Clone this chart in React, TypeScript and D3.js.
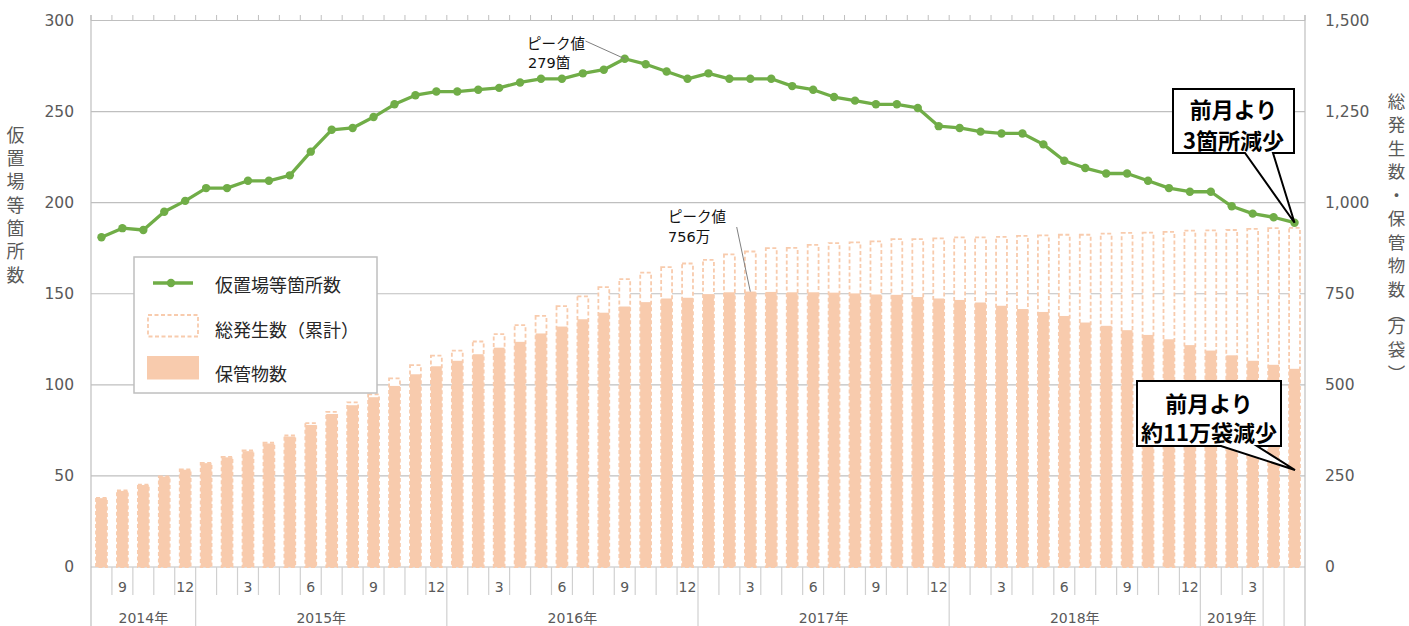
import React from 'react';
import * as d3 from 'd3';

// ---- data ----
const months = [8, 9, 10, 11, 12,
  1, 2, 3, 4, 5, 6, 7, 8, 9, 10, 11, 12,
  1, 2, 3, 4, 5, 6, 7, 8, 9, 10, 11, 12,
  1, 2, 3, 4, 5, 6, 7, 8, 9, 10, 11, 12,
  1, 2, 3, 4, 5, 6, 7, 8, 9, 10, 11, 12,
  1, 2, 3, 4, 5];

const yearLabels = ['2014年', '2015年', '2016年', '2017年', '2018年', '2019年', '', ''];
const yearCounts = [5, 12, 12, 12, 12, 3, 1, 1];

// 仮置場等箇所数 (left axis)
const sites = [181, 186, 185, 195, 201, 208, 208, 212, 212, 215, 228, 240, 241, 247, 254,
  259, 261, 261, 262, 263, 266, 268, 268, 271, 273, 279, 276, 272, 268, 271,
  268, 268, 268, 264, 262, 258, 256, 254, 254, 252, 242, 241, 239, 238, 238,
  232, 223, 219, 216, 216, 212, 208, 206, 206, 198, 194, 192, 189];

// 保管物数 (right axis, 万袋)
const storage = [189, 209, 225, 248, 267, 285, 301, 318, 339, 358, 390, 420, 444, 466, 497,
  529, 551, 566, 584, 602, 618, 641, 660, 680, 698, 715, 727, 737, 739, 749,
  754, 756, 755, 754, 754, 753, 751, 748, 747, 741, 737, 733, 726, 717, 708,
  700, 689, 671, 662, 650, 637, 625, 609, 594, 581, 566, 555, 544];

// 総発生数（累計） (right axis, 万袋)
const total = [190, 210, 226, 249, 268, 286, 302, 320, 341, 361, 395, 426, 452, 474, 518,
  554, 580, 594, 619, 639, 664, 689, 716, 743, 768, 790, 808, 823, 833, 843,
  858, 866, 875, 876, 884, 889, 891, 894, 900, 900, 902, 905, 905, 906, 909,
  910, 912, 912, 915, 917, 918, 920, 923, 924, 925, 928, 930, 931];

const leftTicks = [0, 50, 100, 150, 200, 250, 300];
const rightTicks = [0, 250, 500, 750, 1000, 1250, 1500];

const legendLabels = ['仮置場等箇所数', '総発生数（累計）', '保管物数'];

// ---- style ----
const GREEN = '#70ad47';
const BAR = '#f8cbad';
const GRID = '#bfbfbf';
const AXIS_TEXT = '#595959';
const NUM_FONT = '"DejaVu Sans", "Noto Sans CJK JP", sans-serif';
const JP_FONT = '"Noto Sans CJK JP", "Noto Sans", sans-serif';

export default function App() {
  const W = 1409, H = 626;
  const left = 91, right = 1305, top = 20.5, bottom = 567;

  const idx = d3.range(months.length);
  const x = d3.scaleBand<number>().domain(idx).range([left, right]).paddingInner(0).paddingOuter(0);
  const bw = x.bandwidth();
  const cx = (i: number) => (x(i) as number) + bw / 2;
  const yL = d3.scaleLinear().domain([0, 300]).range([bottom, top]);
  const yR = d3.scaleLinear().domain([0, 1500]).range([bottom, top]);
  const fmt = d3.format(',');

  const barW = bw * 0.52;

  const linePath = d3.line<number>().x((_, i) => cx(i)).y(d => yL(d))(sites) || '';

  const yearStarts: number[] = [];
  let acc = 0;
  yearCounts.forEach(c => { yearStarts.push(acc); acc += c; });

  const boundary = (k: number) => left + k * bw;

  const last = months.length - 1;
  const tip1x = cx(last), tip1y = yL(sites[last]);
  const peakSiteIdx = sites.indexOf(d3.max(sites) as number);
  const peakStoreIdx = storage.indexOf(d3.max(storage) as number);

  return (
    <div style={{ position: 'absolute', left: 0, top: 0 }}>
      <svg width={W} height={H} style={{ display: 'block' }}>
        <rect x={0} y={0} width={W} height={H} fill="#fff" />
        {leftTicks.map(t => (
          <line key={'g' + t} x1={left} x2={right} y1={yL(t)} y2={yL(t)} stroke={GRID} strokeWidth={1.2} />
        ))}
        <line x1={left} x2={left} y1={15} y2={H} stroke={GRID} strokeWidth={1.2} />
        <line x1={right} x2={right} y1={15} y2={H} stroke={GRID} strokeWidth={1.2} />
        {d3.range(months.length + 1).map(k => (
          <line key={'tt' + k} x1={boundary(k)} x2={boundary(k)} y1={15} y2={top} stroke={GRID} strokeWidth={1} />
        ))}
        {d3.range(1, months.length).map(k => (
          <line key={'mt' + k} x1={boundary(k)} x2={boundary(k)} y1={bottom} y2={yearStarts.includes(k) ? H : 595} stroke="#d0d0d0" strokeWidth={1.2} />
        ))}
        {months.map((m, i) => (m % 3 === 0 ? (
          <text key={'ml' + i} x={cx(i)} y={587} textAnchor="middle" dominantBaseline="central"
            fontFamily={NUM_FONT} fontSize={14} fill={AXIS_TEXT}>{m}</text>
        ) : null))}
        {yearLabels.map((lab, j) => (
          <text key={'yl' + j} x={left + (yearStarts[j] + yearCounts[j] / 2) * bw} y={618} textAnchor="middle"
            dominantBaseline="central" fontFamily={NUM_FONT} fontSize={14} fill={AXIS_TEXT}>{lab}</text>
        ))}
        {leftTicks.map(t => (
          <text key={'lt' + t} x={74} y={yL(t)} textAnchor="end" dominantBaseline="central"
            fontFamily={NUM_FONT} fontSize={15.5} fill={AXIS_TEXT}>{t}</text>
        ))}
        {rightTicks.map(t => (
          <text key={'rt' + t} x={1325} y={yR(t)} textAnchor="start" dominantBaseline="central"
            fontFamily={NUM_FONT} fontSize={15.5} fill={AXIS_TEXT}>{fmt(t)}</text>
        ))}
        <text x={15.5} y={126} style={{ writingMode: 'vertical-rl' }} fontFamily={JP_FONT} fontSize={18}
          letterSpacing={5.3} fill={AXIS_TEXT}>仮置場等箇所数</text>
        <text x={1396.5} y={92.5} style={{ writingMode: 'vertical-rl' }} fontFamily={JP_FONT} fontSize={17.5}
          letterSpacing={6} fill={AXIS_TEXT}>総発生数・保管物数<tspan letterSpacing={-4}>（</tspan>万袋）</text>

        {total.map((v, i) => (
          <rect key={'tb' + i} x={cx(i) - barW / 2} y={yR(v)} width={barW} height={yR(0) - yR(v)}
            fill="#fff" stroke={BAR} strokeWidth={1.8} strokeDasharray="4 2.5" />
        ))}
        {storage.map((v, i) => (
          <rect key={'sb' + i} x={cx(i) - barW / 2} y={yR(v)} width={barW} height={yR(0) - yR(v)} fill={BAR} />
        ))}

        <path d={linePath} fill="none" stroke={GREEN} strokeWidth={3.3} strokeLinejoin="round" />
        {sites.map((v, i) => (
          <circle key={'c' + i} cx={cx(i)} cy={yL(v)} r={4.2} fill={GREEN} />
        ))}

        <line x1={585.5} y1={41} x2={cx(peakSiteIdx)} y2={yL(sites[peakSiteIdx])} stroke="#808080" strokeWidth={1} />
        <text x={527} y={42} dominantBaseline="central" fontFamily={JP_FONT} fontSize={14.5} fill="#111">ピーク値</text>
        <text x={528} y={62.5} dominantBaseline="central" fontFamily={NUM_FONT} fontSize={14.5} fill="#111">{sites[peakSiteIdx]}箇</text>
        <line x1={736.7} y1={227} x2={cx(peakStoreIdx)} y2={yR(storage[peakStoreIdx])} stroke="#808080" strokeWidth={1} />
        <text x={668} y={215} dominantBaseline="central" fontFamily={JP_FONT} fontSize={14.5} fill="#111">ピーク値</text>
        <text x={668} y={237} dominantBaseline="central" fontFamily={NUM_FONT} fontSize={14.5} fill="#111">{storage[peakStoreIdx]}万</text>

        <path d={`M1173,89 H1294 V153 H1273 L${tip1x},${tip1y} L1245,153 H1173 Z`} fill="#fff" stroke="#000" strokeWidth={2} strokeLinejoin="miter" />
        <text x={1233.5} y={108} textAnchor="middle" dominantBaseline="central" fontFamily={JP_FONT} fontWeight={700} fontSize={22} fill="#000">前月より</text>
        <text x={1233.5} y={139} textAnchor="middle" dominantBaseline="central" fontFamily={JP_FONT} fontWeight={700} fontSize={22} fill="#000">{sites[last - 1] - sites[last]}箇所減少</text>

        <path d={`M1137,381 H1281 V446 H1257 L1295,470 L1221,446 H1137 Z`} fill="#fff" stroke="#000" strokeWidth={2} strokeLinejoin="miter" />
        <text x={1209} y={402} textAnchor="middle" dominantBaseline="central" fontFamily={JP_FONT} fontWeight={700} fontSize={22} fill="#000">前月より</text>
        <text x={1209} y={431} textAnchor="middle" dominantBaseline="central" fontFamily={JP_FONT} fontWeight={700} fontSize={22} fill="#000">約{storage[last - 1] - storage[last]}万袋減少</text>

        <rect x={134} y={257} width={243} height={136} fill="#fff" stroke={GRID} strokeWidth={1.5} />
        <line x1={153} x2={193} y1={283} y2={283} stroke={GREEN} strokeWidth={3.3} />
        <circle cx={171} cy={283} r={4.2} fill={GREEN} />
        <text x={215} y={284} dominantBaseline="central" fontFamily={JP_FONT} fontSize={18} fill="#262626">{legendLabels[0]}</text>
        <rect x={148} y={315} width={50} height={21.5} fill="#fff" stroke={BAR} strokeWidth={1.8} strokeDasharray="4 2.5" />
        <text x={215} y={329} dominantBaseline="central" fontFamily={JP_FONT} fontSize={18} fill="#262626">{legendLabels[1]}</text>
        <rect x={147} y={356} width={52} height={23.5} fill={BAR} />
        <text x={215} y={372.5} dominantBaseline="central" fontFamily={JP_FONT} fontSize={18} fill="#262626">{legendLabels[2]}</text>
      </svg>
    </div>
  );
}
